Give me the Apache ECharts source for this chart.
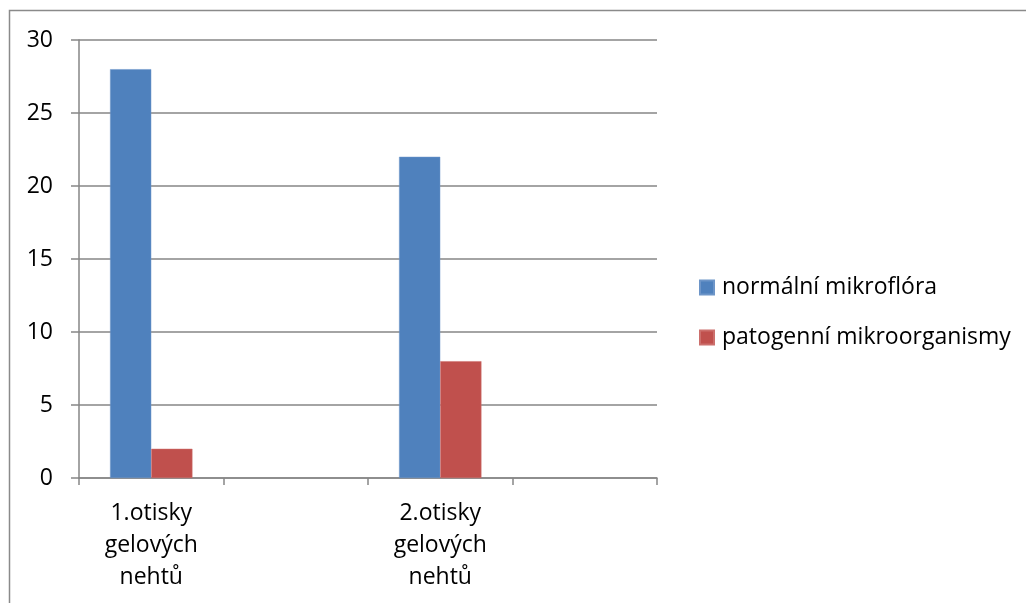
<!DOCTYPE html>
<html>
<head>
<meta charset="utf-8">
<script src="https://cdn.jsdelivr.net/npm/echarts@6/dist/echarts.min.js"></script>
<style>
html,body{margin:0;padding:0;background:#fff;}
#chart{width:1026px;height:603px;}
</style>
</head>
<body>
<div id="chart"></div>
<script>
const categories = ['1.otisky\ngelových\nnehtů', '', '2.otisky\ngelových\nnehtů', ''];
const seriesNames = ['normální mikroflóra', 'patogenní mikroorganismy'];
const normalValues = [28, '-', 22, '-'];
const pathogenValues = [2, '-', 8, '-'];
const yTicks = { min: 0, max: 30, interval: 5 };

const FONT = '"Open Sans", sans-serif';
const GRID = '#868686';
const chart = echarts.init(document.getElementById('chart'), null, { renderer: 'canvas' });
chart.setOption({
  animation: false,
  backgroundColor: '#fff',
  graphic: [{
    type: 'rect', silent: true, z: -1,
    shape: { x: 9.5, y: 10.5, width: 1100, height: 700 },
    style: { fill: 'none', stroke: '#8a8a8a', lineWidth: 1.5 }
  }],
  grid: { left: 79, right: 369, top: 40, bottom: 125, containLabel: false },
  legend: {
    orient: 'vertical',
    left: 694,
    top: 271,
    padding: 5,
    itemWidth: 14,
    itemHeight: 14,
    itemGap: 27,
    icon: 'rect',
    textStyle: { fontFamily: FONT, fontSize: 23, color: '#000', padding: [0, 0, 0, 3] },
    data: seriesNames
  },
  xAxis: {
    type: 'category',
    data: categories,
    boundaryGap: true,
    axisLine: { show: true, lineStyle: { color: GRID, width: 1.5 } },
    axisTick: { show: true, length: 7, interval: 0, lineStyle: { color: GRID, width: 1.5 } },
    axisLabel: { interval: 0, margin: 19, fontFamily: FONT, fontSize: 23, lineHeight: 32, color: '#000', align: 'center' },
    splitLine: { show: false }
  },
  yAxis: {
    type: 'value',
    min: yTicks.min, max: yTicks.max, interval: yTicks.interval,
    axisLine: { show: true, lineStyle: { color: GRID, width: 1.5 } },
    axisTick: { show: true, length: 8, lineStyle: { color: GRID, width: 1.5 } },
    axisLabel: { margin: 26, fontFamily: FONT, fontSize: 23, color: '#000' },
    splitLine: { show: true, lineStyle: { color: GRID, width: 1.5 } }
  },
  series: [
    {
      name: seriesNames[0], type: 'bar', data: normalValues,
      barGap: '0%', barCategoryGap: '43%',
      itemStyle: { color: '#4F81BD', borderColor: '#6d95c8', borderWidth: 0.5 }
    },
    {
      name: seriesNames[1], type: 'bar', data: pathogenValues,
      barGap: '0%', barCategoryGap: '43%',
      itemStyle: { color: '#C0504D', borderColor: '#cc6f6c', borderWidth: 0.5 }
    }
  ]
});
</script>
</body>
</html>
